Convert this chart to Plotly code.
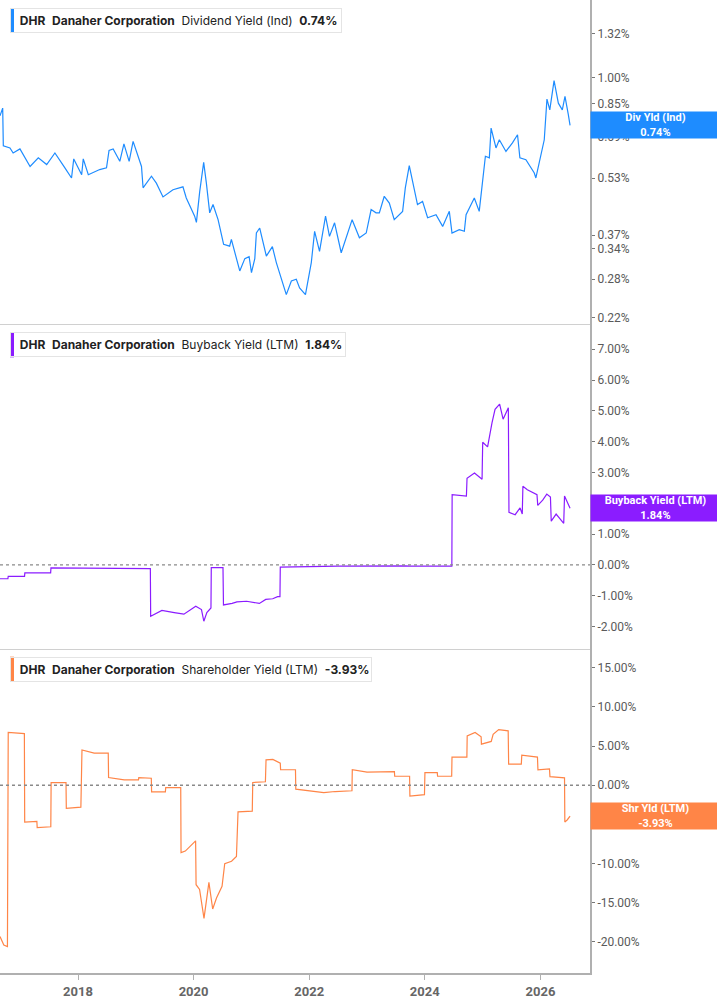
import plotly.graph_objects as go
from plotly.subplots import make_subplots
import math

# Dividend Yield (Ind), in %
div_dates = ['2016-08-26', '2016-09-12', '2016-09-16', '2016-10-28', '2016-11-17', '2016-12-30',
             '2017-03-04', '2017-04-25', '2017-06-17', '2017-08-08', '2017-10-10', '2017-11-21',
             '2017-12-05', '2018-01-24', '2018-02-03', '2018-03-07', '2018-05-18', '2018-06-30',
             '2018-07-16', '2018-08-11', '2018-09-22', '2018-10-18', '2018-11-20', '2018-12-15',
             '2019-02-06', '2019-02-16', '2019-04-10', '2019-05-11', '2019-06-22', '2019-08-24',
             '2019-10-26', '2019-11-16', '2020-01-08', '2020-01-19', '2020-02-09', '2020-03-05',
             '2020-03-22', '2020-04-12', '2020-05-03', '2020-06-04', '2020-07-09', '2020-08-16',
             '2020-08-27', '2020-10-19', '2020-11-20', '2020-12-17', '2021-01-01', '2021-01-22',
             '2021-02-01', '2021-02-22', '2021-04-05', '2021-05-13', '2021-06-07', '2021-08-09',
             '2021-09-10', '2021-10-11', '2021-11-01', '2021-12-08', '2022-01-14', '2022-02-04',
             '2022-03-07', '2022-04-14', '2022-05-09', '2022-06-10', '2022-07-22', '2022-09-02',
             '2022-09-29', '2022-11-14', '2022-12-27', '2023-01-27', '2023-02-27', '2023-03-20',
             '2023-04-20', '2023-05-22', '2023-06-22', '2023-08-14', '2023-08-31', '2023-09-25',
             '2023-10-27', '2023-11-16', '2023-12-18', '2024-01-19', '2024-03-12', '2024-04-23',
             '2024-06-04', '2024-06-21', '2024-08-06', '2024-09-07', '2024-09-18', '2024-11-09',
             '2024-12-10', '2025-01-01', '2025-01-18', '2025-02-12', '2025-02-23', '2025-03-26',
             '2025-04-16', '2025-05-28', '2025-07-08', '2025-08-09', '2025-08-24', '2025-10-01',
             '2025-11-23', '2025-12-03', '2025-12-24', '2026-01-25', '2026-02-11', '2026-03-01',
             '2026-03-28', '2026-04-24', '2026-05-19', '2026-06-05', '2026-06-26', '2026-07-07']
div_vals = [0.787, 0.826, 0.651, 0.642, 0.622, 0.638,
            0.571, 0.603, 0.578, 0.622, 0.566, 0.531,
            0.599, 0.542, 0.599, 0.542, 0.560, 0.566,
            0.632, 0.638, 0.590, 0.659, 0.590, 0.669,
            0.571, 0.499, 0.537, 0.514, 0.471, 0.493,
            0.502, 0.468, 0.417, 0.401, 0.488, 0.586,
            0.514, 0.426, 0.449, 0.408, 0.349, 0.345,
            0.360, 0.295, 0.319, 0.323, 0.292, 0.319,
            0.375, 0.387, 0.324, 0.344, 0.311, 0.254,
            0.277, 0.280, 0.265, 0.254, 0.311, 0.379,
            0.334, 0.417, 0.367, 0.400, 0.331, 0.375,
            0.408, 0.364, 0.375, 0.435, 0.426, 0.426,
            0.473, 0.453, 0.408, 0.430, 0.499, 0.574,
            0.488, 0.449, 0.458, 0.413, 0.421, 0.391,
            0.430, 0.375, 0.383, 0.379, 0.421, 0.468,
            0.430, 0.525, 0.609, 0.603, 0.728, 0.642,
            0.676, 0.628, 0.663, 0.698, 0.603, 0.596,
            0.548, 0.531, 0.590, 0.676, 0.874, 0.817,
            0.983, 0.852, 0.817, 0.889, 0.792, 0.74]

# Buyback Yield (LTM), in %
bb_dates = ['2016-08-26', '2016-10-15', '2016-10-17', '2017-01-28', '2017-01-30', '2017-07-12',
            '2017-07-14', '2018-06-01', '2018-12-01', '2019-04-03', '2019-04-05', '2019-06-15',
            '2019-09-01', '2019-11-01', '2020-01-15', '2020-02-20', '2020-03-06', '2020-03-25',
            '2020-04-20', '2020-04-22', '2020-07-05', '2020-07-08', '2020-09-01', '2020-10-01',
            '2020-12-01', '2021-02-20', '2021-04-01', '2021-05-15', '2021-06-15', '2021-06-30',
            '2021-07-02', '2022-07-01', '2023-09-01', '2023-10-01', '2024-06-20', '2024-06-22',
            '2024-09-20', '2024-09-24', '2024-11-10', '2024-12-28', '2025-01-01', '2025-02-01',
            '2025-03-01', '2025-03-20', '2025-04-18', '2025-05-10', '2025-06-12', '2025-06-16',
            '2025-07-25', '2025-08-25', '2025-09-08', '2025-09-12', '2025-10-10', '2025-12-10',
            '2025-12-15', '2026-01-15', '2026-02-10', '2026-03-05', '2026-03-10', '2026-04-10',
            '2026-05-28', '2026-06-02', '2026-07-07']
bb_vals = [-0.45, -0.45, -0.37, -0.37, -0.26, -0.26,
           -0.10, -0.10, -0.12, -0.12, -1.67, -1.48,
           -1.55, -1.60, -1.34, -1.45, -1.83, -1.55,
           -1.40, -0.09, -0.09, -1.30, -1.25, -1.20,
           -1.18, -1.25, -1.12, -1.10, -1.03, -1.03,
           -0.07, -0.04, -0.03, -0.04, -0.04, 2.28,
           2.23, 2.81, 2.98, 2.78, 3.98, 3.83,
           4.62, 5.05, 5.22, 4.73, 5.10, 1.71,
           1.63, 1.85, 1.65, 2.55, 2.44, 2.28,
           1.93, 2.10, 2.30, 2.20, 1.42, 1.65,
           1.35, 2.24, 1.84]

# Shareholder Yield (LTM), in %
sh_dates = ['2016-08-26', '2016-09-19', '2016-10-12', '2016-10-17', '2017-01-27', '2017-01-29',
            '2017-04-16', '2017-04-18', '2017-07-13', '2017-07-15', '2017-10-17', '2017-10-19',
            '2018-01-19', '2018-01-26', '2018-04-13', '2018-07-11', '2018-07-13', '2018-10-20',
            '2019-01-18', '2019-01-20', '2019-04-09', '2019-04-11', '2019-07-07', '2019-07-09',
            '2019-10-12', '2019-10-14', '2019-11-10', '2020-01-14', '2020-01-17', '2020-02-08',
            '2020-03-07', '2020-04-07', '2020-05-01', '2020-05-25', '2020-06-29', '2020-07-16',
            '2020-08-28', '2020-09-28', '2020-10-08', '2021-01-06', '2021-01-09', '2021-03-30',
            '2021-04-03', '2021-05-16', '2021-07-02', '2021-07-04', '2021-10-06', '2021-10-08',
            '2022-04-03', '2022-06-13', '2022-09-28', '2022-09-30', '2023-01-01', '2023-06-23',
            '2023-06-25', '2023-09-27', '2023-09-29', '2023-12-30', '2024-01-02', '2024-03-20',
            '2024-03-22', '2024-06-19', '2024-06-21', '2024-09-23', '2024-09-25', '2024-11-14',
            '2024-12-22', '2024-12-24', '2025-02-24', '2025-03-08', '2025-04-12', '2025-06-11',
            '2025-06-14', '2025-09-02', '2025-09-05', '2025-12-13', '2025-12-16', '2026-02-27',
            '2026-03-02', '2026-06-02', '2026-06-04', '2026-06-20', '2026-07-07']
sh_vals = [-19.3, -20.4, -20.6, 6.75, 6.6, -4.7,
           -4.6, -5.4, -5.3, 0.34, 0.34, -2.95,
           -2.8, 4.5, 4.1, 4.1, 0.98, 0.68,
           0.68, 0.98, 0.9, -0.85, -0.85, -0.3,
           -0.3, -8.6, -8.4, -7.1, -12.7, -13.3,
           -17.0, -12.4, -15.8, -14.4, -12.9, -10.0,
           -9.7, -9.1, -3.4, -3.3, 0.35, 0.45,
           3.25, 3.3, 2.82, 1.98, 1.98, -0.5,
           -0.95, -0.8, -0.7, 1.98, 1.67, 1.75,
           1.15, 1.15, -1.37, -1.2, 1.62, 1.62,
           1.15, 1.15, 3.6, 3.6, 6.3, 6.75,
           6.2, 5.25, 5.6, 6.5, 7.1, 6.95,
           2.7, 2.7, 3.85, 3.6, 1.97, 2.1,
           1.1, 0.95, -4.7, -4.4, -3.93]

div_ticks = [0.22, 0.28, 0.34, 0.37, 0.53, 0.69, 0.85, 1.00, 1.32]
bb_ticks = [-2, -1, 0, 1, 2, 3, 4, 5, 6, 7]
sh_ticks = [-20, -15, -10, -5, 0, 5, 10, 15]
year_ticks = ['2018', '2020', '2022', '2024', '2026']

blue = '#1e8cff'
purple = '#8b1cff'
orange = '#ff8547'
axis_gray = '#b0b0b0'
tick_font = dict(family='Roboto, Arial, sans-serif', size=12, color='#5a5a5a')

fig = make_subplots(rows=3, cols=1, shared_xaxes=True, vertical_spacing=0)

fig.add_trace(go.Scatter(x=div_dates, y=div_vals, mode='lines',
                         line=dict(color=blue, width=1.2)), row=1, col=1)
fig.add_trace(go.Scatter(x=bb_dates, y=bb_vals, mode='lines',
                         line=dict(color=purple, width=1.2)), row=2, col=1)
fig.add_trace(go.Scatter(x=sh_dates, y=sh_vals, mode='lines',
                         line=dict(color=orange, width=1.2)), row=3, col=1)

# y axes on the right
fig.update_yaxes(side='right', showgrid=False, zeroline=False, showline=True,
                 linecolor=axis_gray, linewidth=2, ticks='outside', ticklen=3,
                 tickcolor='#777', tickfont=tick_font)
fig.update_yaxes(type='log', range=[-0.6767, 0.2137], tickvals=div_ticks,
                 ticktext=['%.2f%%' % v for v in div_ticks], row=1, col=1)
fig.update_yaxes(range=[-2.72, 7.81], tickvals=bb_ticks,
                 ticktext=['%.2f%%' % v for v in bb_ticks], row=2, col=1)
fig.update_yaxes(range=[-23.97, 17.44], tickvals=sh_ticks,
                 ticktext=['%.2f%%' % v for v in sh_ticks], row=3, col=1)

# x axes
fig.update_xaxes(range=['2016-08-26', '2026-11-10'], showgrid=False, zeroline=False,
                 showline=True, linecolor='#d0d0d0', linewidth=1)
fig.update_xaxes(tickvals=[y + '-01-01' for y in year_ticks], ticktext=year_ticks,
                 ticks='outside', ticklen=5, tickcolor=axis_gray,
                 linecolor=axis_gray, linewidth=2,
                 tickfont=dict(family='Roboto, Arial, sans-serif', size=13,
                               color='#666', weight='bold'),
                 row=3, col=1)

# dotted zero lines
for yref in ['y2', 'y3']:
    fig.add_shape(type='line', xref='x domain', x0=0, x1=1, yref=yref, y0=0, y1=0,
                  line=dict(color='#8a8a8a', width=1.3, dash='dot'))

# legend boxes top-left of each panel
legend_rows = [
    ('y domain', 'Dividend Yield (Ind)', '0.74%', blue, 326),
    ('y2 domain', 'Buyback Yield (LTM)', '1.84%', purple, 330),
    ('y3 domain', 'Shareholder Yield (LTM)', '-3.93%', orange, 356),
]
sp = '&nbsp;&nbsp;'
for yref, name, val, col, w in legend_rows:
    fig.add_shape(type='rect', xref='paper', xsizemode='pixel', xanchor=0, x0=10, x1=14,
                  yref=yref, ysizemode='pixel', yanchor=1, y0=-8, y1=-33,
                  fillcolor=col, line=dict(width=0))
    fig.add_annotation(xref='paper', x=0, xanchor='left', xshift=10,
                       yref=yref, y=1, yanchor='top', yshift=-8,
                       text=sp + '<b>DHR</b>' + sp + '<b>Danaher Corporation</b>' + sp + name + sp + '<b>' + val + '</b>',
                       showarrow=False, align='left', width=w, height=19,
                       bgcolor='rgba(255,255,255,0)', bordercolor='#e4e4e4', borderwidth=1, borderpad=2,
                       font=dict(family='Inter, Roboto, sans-serif', size=12, color='#222'))

# value labels on the right axis
labels = [
    ('y', math.log10(div_vals[-1]), 'Div Yld (Ind)<br>0.74%', blue),
    ('y2', bb_vals[-1], 'Buyback Yield (LTM)<br>1.84%', purple),
    ('y3', sh_vals[-1], 'Shr Yld (LTM)<br>-3.93%', orange),
]
for yref, yv, txt, col in labels:
    fig.add_annotation(xref='paper', x=1, xanchor='left', yref=yref, y=yv, yanchor='middle',
                       text='<b>' + txt + '</b>', showarrow=False, width=127, height=24,
                       bgcolor=col, borderpad=1, align='center',
                       font=dict(family='Roboto, Arial, sans-serif', size=11, color='white'))

fig.update_layout(width=717, height=1005, margin=dict(l=0, r=127, t=0, b=32),
                  plot_bgcolor='white', paper_bgcolor='white', showlegend=False)

fig.write_html('out.html', config={'displayModeBar': False},
               post_script="document.body.style.margin='0';")
